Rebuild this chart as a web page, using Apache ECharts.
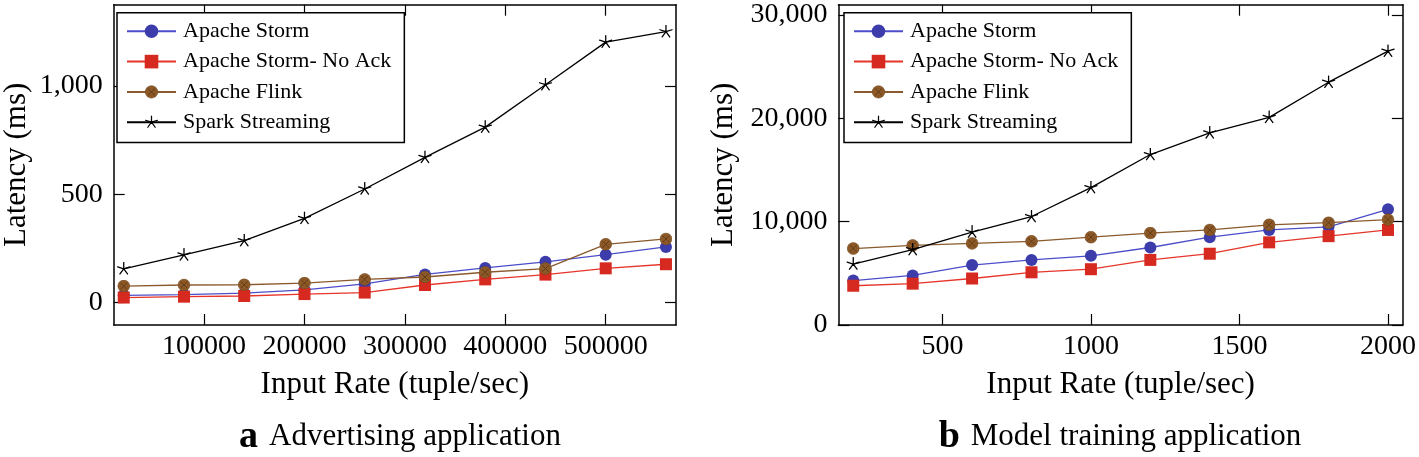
<!DOCTYPE html>
<html>
<head>
<meta charset="utf-8">
<script src="https://cdn.jsdelivr.net/npm/echarts@6/dist/echarts.min.js"></script>
<style>
html,body{margin:0;padding:0;background:#fff;}
#chart{width:1419px;height:457px;}
</style>
</head>
<body>
<div id="chart"></div>
<script>
// ---- Data (a) Advertising application ----
const rateA = [20000, 80000, 140000, 200000, 260000, 320000, 380000, 440000, 500000, 560000];
const stormA = [32, 35, 42, 57, 85, 129, 159, 187, 220, 256];
const noAckA = [22, 26, 29, 38, 45, 80, 106, 128, 157, 176];
const flinkA = [75, 80, 81, 89, 106, 117, 139, 156, 268, 293];
const sparkA = [155, 219, 285, 388, 524, 670, 810, 1006, 1203, 1251];

// ---- Data (b) Model training application ----
const rateB = [200, 400, 600, 800, 1000, 1200, 1400, 1600, 1800, 2000];
const stormB = [4300, 4800, 5800, 6300, 6700, 7500, 8500, 9200, 9500, 11200];
const noAckB = [3800, 4000, 4500, 5100, 5400, 6300, 6900, 8000, 8600, 9200];
const flinkB = [7400, 7700, 7900, 8100, 8500, 8900, 9200, 9700, 9900, 10200];
const sparkB = [5900, 7300, 9000, 10500, 13300, 16500, 18600, 20100, 23500, 26500];

// ---- Ticks ----
const ticksXA = [100000, 200000, 300000, 400000, 500000];
const ticksYA = [0, 500, 1000];
const ticksXB = [500, 1000, 1500, 2000];
const ticksYB = [0, 10000, 20000, 30000];

const seriesNames = ['Apache Storm', 'Apache Storm- No Ack', 'Apache Flink', 'Spark Streaming'];
const captionA = ['a', 'Advertising application'];
const captionB = ['b', 'Model training application'];
const xTitle = 'Input Rate (tuple/sec)';
const yTitle = 'Latency (ms)';

const FONT = '"Liberation Serif", "DejaVu Serif", serif';

function svgUri(svg) {
  return 'image://data:image/svg+xml;charset=utf-8,' + encodeURIComponent(svg);
}
const flinkSym = svgUri("<svg xmlns='http://www.w3.org/2000/svg' width='24' height='24' viewBox='0 0 24 24'><circle cx='12' cy='12' r='11' fill='#8f5b2a' stroke='#6e4318' stroke-width='1'/><circle cx='12' cy='12' r='7' fill='none' stroke='#7a4a1c' stroke-width='0.8'/><path d='M6 6L18 18M18 6L6 18' stroke='#5a3510' stroke-width='1.6'/></svg>");
const starSym = svgUri("<svg xmlns='http://www.w3.org/2000/svg' width='24' height='24' viewBox='0 0 24 24'><path d='M12 12L12 1M12 12L22.46 8.6M12 12L1.54 8.6M12 12L5.53 20.9M12 12L18.47 20.9' stroke='#000' stroke-width='2.2' stroke-linecap='round' fill='none'/></svg>");

const styles = [
  {color: '#3c3cab', line: '#4d4dc9', symbol: 'circle', size: 12},
  {color: '#d6291f', line: '#e6352a', symbol: 'rect', size: 12},
  {color: '#8f5b2a', line: '#8a5a2c', symbol: flinkSym, size: 13},
  {color: '#000000', line: '#000000', symbol: starSym, size: 14}
];

function pairs(xs, ys) { return xs.map((x, i) => [x, ys[i]]); }

function makeSeries(gridIdx, xs, sets) {
  return sets.map((ys, k) => ({
    name: seriesNames[k],
    type: 'line',
    xAxisIndex: gridIdx * 2,
    yAxisIndex: gridIdx * 2,
    data: pairs(xs, ys),
    symbol: styles[k].symbol,
    symbolSize: styles[k].size,
    showAllSymbol: true,
    itemStyle: {color: styles[k].color},
    lineStyle: {color: styles[k].line, width: 1.3},
    emphasis: {disabled: true},
    animation: false,
    z: 3 + k
  }));
}

const tickStyle = {show: true, inside: true, length: 11, lineStyle: {color: '#000', width: 1.2}};

function xAxes(gridIdx, min, max, ticks, fmt) {
  return [
    {
      type: 'value', gridIndex: gridIdx, position: 'bottom', min: min, max: max,
      axisLine: {show: true, onZero: false, lineStyle: {color: '#000', width: 1.5}},
      axisTick: Object.assign({customValues: ticks}, tickStyle),
      axisLabel: {customValues: ticks, formatter: fmt, color: '#000', fontFamily: FONT, fontSize: 28, margin: 8},
      splitLine: {show: false},
      name: xTitle, nameLocation: 'middle', nameGap: 44,
      nameTextStyle: {color: '#000', fontFamily: FONT, fontSize: 31}
    },
    {
      type: 'value', gridIndex: gridIdx, position: 'top', min: min, max: max,
      axisLine: {show: true, onZero: false, lineStyle: {color: '#000', width: 1.5}},
      axisTick: Object.assign({customValues: ticks}, tickStyle),
      axisLabel: {show: false},
      splitLine: {show: false}
    }
  ];
}

function yAxes(gridIdx, min, max, ticks, nameGap) {
  return [
    {
      type: 'value', gridIndex: gridIdx, position: 'left', min: min, max: max,
      axisLine: {show: true, onZero: false, lineStyle: {color: '#000', width: 1.5}},
      axisTick: Object.assign({customValues: ticks}, tickStyle),
      axisLabel: {customValues: ticks, formatter: v => Number(v).toLocaleString('en-US'), color: '#000', fontFamily: FONT, fontSize: 28, margin: 11},
      splitLine: {show: false},
      name: yTitle, nameLocation: 'middle', nameGap: nameGap,
      nameTextStyle: {color: '#000', fontFamily: FONT, fontSize: 31}
    },
    {
      type: 'value', gridIndex: gridIdx, position: 'right', min: min, max: max,
      axisLine: {show: true, onZero: false, lineStyle: {color: '#000', width: 1.5}},
      axisTick: Object.assign({customValues: ticks}, tickStyle),
      axisLabel: {show: false},
      splitLine: {show: false}
    }
  ];
}

function legendAt(left) {
  return {
    data: seriesNames,
    orient: 'vertical',
    left: left, top: 12.7,
    itemWidth: 49, itemHeight: 17,
    itemGap: 8.3,
    padding: [7.6, 13, 9.4, 9],
    borderColor: '#000', borderWidth: 1.5, borderRadius: 0,
    backgroundColor: '#fff',
    selectedMode: false,
    textStyle: {color: '#000', fontFamily: FONT, fontSize: 22, lineHeight: 22, padding: [0, 0, 0, 2]},
    z: 10
  };
}

function caption(x, parts) {
  return {
    type: 'text', x: x, y: 437,
    style: {
      text: '{b|' + parts[0] + '}{n|' + parts[1] + '}',
      align: 'center', verticalAlign: 'middle',
      rich: {
        b: {fontFamily: FONT, fontSize: 38, fontWeight: 'bold', fill: '#000', padding: [0, 11, 0, 0]},
        n: {fontFamily: FONT, fontSize: 31, fill: '#000'}
      }
    }
  };
}

const chart = echarts.init(document.getElementById('chart'), null, {renderer: 'canvas'});
chart.setOption({
  backgroundColor: '#fff',
  animation: false,
  grid: [
    {left: 110.7, top: 4.7, width: 565.3, height: 320.3, containLabel: false},
    {left: 838.4, top: 4.7, width: 565.6, height: 320.3, containLabel: false}
  ],
  xAxis: [
    ...xAxes(0, 10000, 570000, ticksXA, v => String(v)),
    ...xAxes(1, 150, 2050, ticksXB, v => String(v))
  ],
  yAxis: [
    ...yAxes(0, -105, 1376, ticksYA, 81.7),
    ...yAxes(1, 0, 31000, ticksYB, 99.4)
  ],
  legend: [legendAt(117), legendAt(844)],
  series: [
    ...makeSeries(0, rateA, [stormA, noAckA, flinkA, sparkA]),
    ...makeSeries(1, rateB, [stormB, noAckB, flinkB, sparkB])
  ],
  graphic: [caption(400, captionA), caption(1120, captionB)]
});
</script>
</body>
</html>
